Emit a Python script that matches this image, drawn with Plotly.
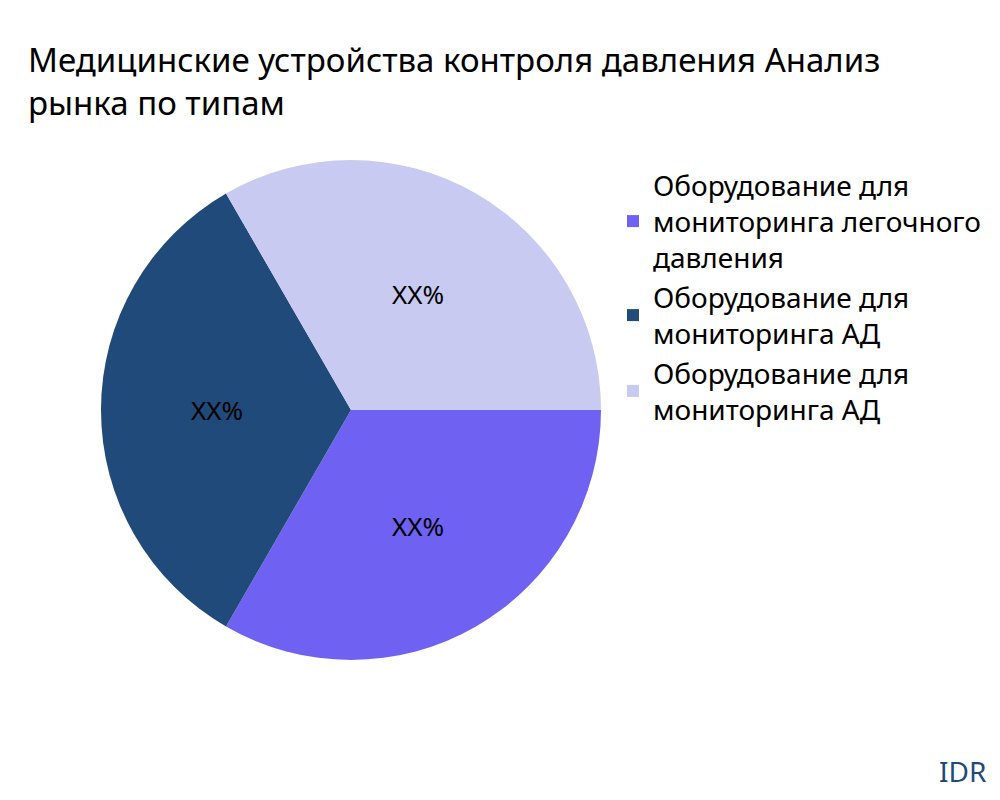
import plotly.graph_objects as go

labels = ["Оборудование для<br>мониторинга легочного<br>давления",
          "Оборудование для<br>мониторинга АД",
          "Оборудование для<br>мониторинга АД "]
values = [1, 1, 1]
colors = ["#6f61f2", "#1f4a7a", "#c8caf1"]
text = ["XX%", "XX%", "XX%"]

fig = go.Figure(go.Pie(
    labels=labels, values=values, text=text, textinfo="text",
    sort=False, direction="clockwise", rotation=90,
    marker=dict(colors=colors),
    textfont=dict(size=26, color="black"),
    domain=dict(x=[0.093, 0.593], y=[0.185, 0.81]),
))
fig.update_layout(
    width=1000, height=800,
    margin=dict(l=0, r=0, t=0, b=0),
    font=dict(family="Noto Sans"),
    title=dict(text="Медицинские устройства контроля давления Анализ<br>рынка по типам",
               x=0.02, xanchor="left", y=0.92, yanchor="middle",
               font=dict(size=33, color="black")),
    legend=dict(x=0.605, y=0.81, yanchor="top", font=dict(size=28, color="black"),
                tracegroupgap=10),
    paper_bgcolor="white",
    annotations=[dict(text="IDR", x=0.98, y=0.02, xref="paper", yref="paper",
                      xanchor="right", yanchor="bottom", showarrow=False,
                      font=dict(size=28, color="#1f4a7a"))],
)
fig.write_html("out.html")
